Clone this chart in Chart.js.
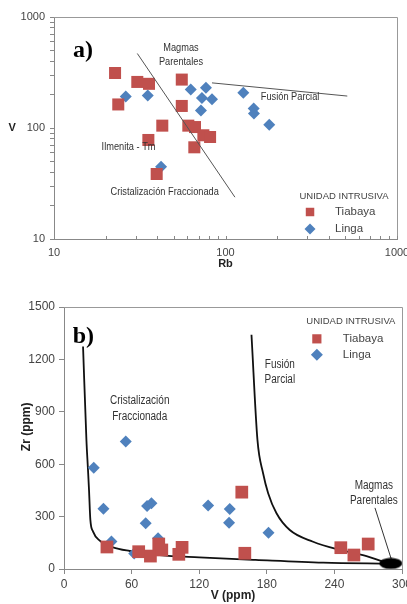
<!DOCTYPE html>
<html>
<head>
<meta charset="utf-8">
<script src="https://cdn.jsdelivr.net/npm/chart.js@4.4.1/dist/chart.umd.min.js"></script>
<style>
  body { margin: 0; width: 407px; height: 604px; overflow: hidden; background: #fff; position: relative; }
  canvas { position: absolute; left: 0; }
  #chartA { top: 0; }
  #chartB { top: 285px; }
</style>
</head>
<body>
<canvas id="chartA" width="420" height="285"></canvas>
<canvas id="chartB" width="420" height="319"></canvas>
<script>
// a) Rb vs V, log-log
const tiabayaRb = [22.7, 23.7, 30.6, 35.8, 55.6, 55.6, 42.8, 60.7, 66.4, 74.3, 81.3, 35.5, 65.8, 39.7];
const tiabayaV = [313, 163, 260, 250, 273, 158, 105, 105, 102, 86, 83, 78, 67, 38.5];
const lingaRb = [26.2, 35.2, 62.7, 76.9, 72.9, 83.4, 71.9, 127, 146, 146.5, 180, 42.1];
const lingaV = [192, 196, 222, 230, 186, 182, 144, 208, 150, 135, 107, 44.8];
const cristalRb = [30.6, 113.5];
const cristalV = [469, 23.8];
const fusionRb = [83.4, 513];
const fusionV = [255, 194];
const logTicks = [10, 100, 1000];

// b) V vs Zr
const tiabayaVb = [38.1, 66.3, 76.7, 84.1, 86.8, 101.9, 104.8, 157.8, 160.5, 245.7, 257.3, 270];
const tiabayaZr = [126, 99, 74, 143, 109, 84, 124, 440, 90, 122, 80, 143];
const lingaVb = [54.8, 26.4, 35, 73.7, 77.6, 72.5, 42.1, 83.5, 62.3, 127.9, 147.1, 146.5, 181.5];
const lingaZr = [730, 580, 345, 361, 376, 262, 157, 176, 89, 363, 344, 265, 208];
const cristalCurveV = [16.9, 19.9, 21.3, 22.2, 23.4, 25.8, 31.7, 43.5, 58.3, 85, 120, 170, 230, 289];
const cristalCurveZr = [1274, 739, 567, 453, 281, 214, 162, 124, 103, 80, 67, 52, 36, 30];
const fusionCurveV = [166.4, 171.7, 176.7, 181.2, 188.6, 200.4, 221.1, 244.8, 268.5, 283.3, 290];
const fusionCurveZr = [1341, 739, 548, 434, 319, 223, 156, 109, 74, 42, 30];
const parentalV = [290];
const parentalZr = [32];
const pointerV = [276, 290.7];
const pointerZr = [350, 52];
const vTicks = [0, 60, 120, 180, 240, 300];
const zrTicks = [0, 300, 600, 900, 1200, 1500];

const RED = '#C0504D';
const BLUE = '#4F81BD';
const SANS = "'Liberation Sans', Arial, sans-serif";

Chart.defaults.font.family = SANS;
Chart.defaults.color = '#444';

const pairs = (xs, ys) => xs.map((v, i) => ({x: v, y: ys[i]}));

// 1,2,...,9 x 10^n marks for the log axes (labels only on decades)
const logMarks = [];
[10, 100].forEach(d => { for (let m = 1; m < 10; m++) logMarks.push(m * d); });
logMarks.push(1000);

// black ellipse used as the "Magmas Parentales" marker
const blob = document.createElement('canvas');
blob.width = 24; blob.height = 12;
const bctx = blob.getContext('2d');
bctx.fillStyle = '#000';
bctx.beginPath();
bctx.ellipse(12, 6, 11.5, 5.5, 0, 0, Math.PI * 2);
bctx.fill();

// frame, free text and the little legend box
function chartNotes(notes, legend, innerXTicks) {
  return {
    id: 'chartNotes',
    afterDraw(chart) {
      const {ctx, chartArea: area, scales} = chart;
      ctx.save();
      ctx.strokeStyle = '#999';
      ctx.lineWidth = 1;
      ctx.beginPath();
      ctx.moveTo(area.left, Math.round(area.top) + 0.5);
      ctx.lineTo(Math.round(area.right) + 0.5, Math.round(area.top) + 0.5);
      ctx.lineTo(Math.round(area.right) + 0.5, area.bottom);
      ctx.stroke();

      if (innerXTicks) {
        ctx.strokeStyle = '#888';
        ctx.beginPath();
        scales.x.ticks.forEach(t => {
          const px = Math.round(scales.x.getPixelForValue(t.value)) + 0.5;
          ctx.moveTo(px, area.bottom);
          ctx.lineTo(px, area.bottom - innerXTicks);
        });
        ctx.stroke();
      }

      ctx.textBaseline = 'middle';
      notes.forEach(n => {
        const px = scales.x.getPixelForValue(n.x);
        const py = scales.y.getPixelForValue(n.y);
        const sx = n.squeeze || 1;
        ctx.font = n.font;
        ctx.fillStyle = n.color || '#333';
        ctx.textAlign = n.align || 'center';
        [].concat(n.text).forEach((line, i) => {
          ctx.save();
          ctx.translate(px, py + i * (n.lineHeight || 0));
          ctx.rotate(n.rotate || 0);
          ctx.scale(sx, 1);
          ctx.fillText(line, 0, 0);
          ctx.restore();
        });
      });

      const lx = scales.x.getPixelForValue(legend.x);
      const ly = scales.y.getPixelForValue(legend.y);
      ctx.font = legend.titleFont;
      ctx.fillStyle = '#444';
      ctx.textAlign = 'center';
      ctx.fillText(legend.title, lx, ly);
      legend.items.forEach(item => {
        const ds = chart.data.datasets[item.dataset];
        const my = ly + item.dy;
        ctx.fillStyle = ds.backgroundColor;
        Chart.helpers.drawPoint(ctx, {pointStyle: ds.pointStyle, radius: item.radius, rotation: 0, borderWidth: 0}, lx + legend.markerDx, my);
        ctx.font = legend.itemFont;
        ctx.fillStyle = '#444';
        ctx.textAlign = 'left';
        ctx.fillText(ds.label, lx + legend.labelDx, my);
      });
      ctx.restore();
    }
  };
}

const axisLine = {color: '#888'};
const tickMarks = {drawOnChartArea: false, tickLength: 5, color: '#888'};

new Chart(document.getElementById('chartA'), {
  type: 'scatter',
  data: {
    datasets: [
      {label: 'Cristalización Fraccionada', data: pairs(cristalRb, cristalV), showLine: true,
        borderColor: '#555', borderWidth: 1, pointRadius: 0},
      {label: 'Fusión Parcial', data: pairs(fusionRb, fusionV), showLine: true,
        borderColor: '#555', borderWidth: 1, pointRadius: 0},
      {label: 'Tiabaya', data: pairs(tiabayaRb, tiabayaV), pointStyle: 'rect', pointRadius: 8.5,
        backgroundColor: RED, borderWidth: 0},
      {label: 'Linga', data: pairs(lingaRb, lingaV), pointStyle: 'rectRot', pointRadius: 6,
        backgroundColor: BLUE, borderWidth: 0}
    ]
  },
  options: {
    responsive: false,
    animation: false,
    events: [],
    layout: {padding: {top: 17, right: 23, bottom: 0, left: 0}},
    plugins: {legend: {display: false}, tooltip: {enabled: false}},
    scales: {
      x: {
        type: 'logarithmic', min: 10, max: 1000,
        afterFit: s => { s.height = 46; },
        afterBuildTicks: s => { s.ticks = logMarks.map(v => ({value: v})); },
        border: axisLine, grid: {drawOnChartArea: false, drawTicks: false},
        ticks: {autoSkip: false, maxRotation: 0, padding: 7, font: {size: 11},
          callback: v => logTicks.includes(v) ? String(v) : ''},
        title: {display: true, text: 'Rb', color: '#222', font: {size: 11, weight: 'bold'}, padding: {top: 0, bottom: 14}}
      },
      y: {
        type: 'logarithmic', min: 10, max: 1000,
        afterFit: s => { s.width = 54; },
        afterBuildTicks: s => { s.ticks = logMarks.map(v => ({value: v})); },
        border: axisLine, grid: {drawOnChartArea: false, tickLength: 4, color: '#888'},
        ticks: {autoSkip: false, padding: 5, font: {size: 11},
          callback: v => logTicks.includes(v) ? String(v) : ''}
      }
    }
  },
  plugins: [chartNotes([
    {text: 'a)', x: 12.9, y: 492, align: 'left', font: "bold 24px 'Liberation Serif', serif", color: '#000'},
    {text: 'V', x: 5.7, y: 100, font: 'bold 11px ' + SANS, color: '#222'},
    {text: ['Magmas', 'Parentales'], x: 55, y: 522, lineHeight: 14, font: '11px ' + SANS, squeeze: 0.84},
    {text: 'Fusión Parcial', x: 238, y: 190, font: '11px ' + SANS, squeeze: 0.84},
    {text: 'Ilmenita - Tm', x: 27.2, y: 67, font: '11px ' + SANS, squeeze: 0.84},
    {text: 'Cristalización Fraccionada', x: 44.2, y: 26.5, font: '11px ' + SANS, squeeze: 0.84}
  ], {
    x: 491, y: 24.4, title: 'UNIDAD INTRUSIVA', titleFont: '9.5px ' + SANS,
    itemFont: '11.5px ' + SANS, markerDx: -34, labelDx: -9,
    items: [{dataset: 2, dy: 16, radius: 6}, {dataset: 3, dy: 33, radius: 5.5}]
  }, 3)]
});

new Chart(document.getElementById('chartB'), {
  type: 'scatter',
  data: {
    datasets: [
      {label: 'Tiabaya', data: pairs(tiabayaVb, tiabayaZr), pointStyle: 'rect', pointRadius: 9,
        backgroundColor: RED, borderWidth: 0},
      {label: 'Linga', data: pairs(lingaVb, lingaZr), pointStyle: 'rectRot', pointRadius: 6,
        backgroundColor: BLUE, borderWidth: 0},
      {label: 'Magmas Parentales', data: pairs(parentalV, parentalZr), pointStyle: blob, pointRadius: 6},
      {label: 'pointer', data: pairs(pointerV, pointerZr), showLine: true,
        borderColor: '#333', borderWidth: 1, pointRadius: 0},
      {label: 'Cristalización Fraccionada', data: pairs(cristalCurveV, cristalCurveZr), showLine: true,
        borderColor: '#111', borderWidth: 1.8, pointRadius: 0, cubicInterpolationMode: 'monotone'},
      {label: 'Fusión Parcial', data: pairs(fusionCurveV, fusionCurveZr), showLine: true,
        borderColor: '#111', borderWidth: 1.8, pointRadius: 0, cubicInterpolationMode: 'monotone'}
    ]
  },
  options: {
    responsive: false,
    animation: false,
    events: [],
    layout: {padding: {top: 22, right: 18, bottom: 0, left: 0}},
    plugins: {legend: {display: false}, tooltip: {enabled: false}},
    scales: {
      x: {
        type: 'linear', min: 0, max: 300,
        afterFit: s => { s.height = 35; },
        border: axisLine, grid: tickMarks,
        afterBuildTicks: s => { s.ticks = vTicks.map(v => ({value: v})); },
        ticks: {autoSkip: false, maxRotation: 0, padding: 3, font: {size: 12}, callback: v => String(v)},
        title: {display: true, text: 'V (ppm)', color: '#222', font: {size: 12, weight: 'bold'}, padding: {top: 0, bottom: 1}}
      },
      y: {
        type: 'linear', min: 0, max: 1500,
        afterFit: s => { s.width = 64; },
        border: axisLine, grid: tickMarks,
        afterBuildTicks: s => { s.ticks = zrTicks.map(v => ({value: v})); },
        ticks: {autoSkip: false, padding: 4, font: {size: 12}, callback: v => String(v)}
      }
    }
  },
  plugins: [chartNotes([
    {text: 'b)', x: 7.7, y: 1331, align: 'left', font: "bold 24px 'Liberation Serif', serif", color: '#000'},
    {text: 'Zr (ppm)', x: -33, y: 814, rotate: -Math.PI / 2, font: 'bold 12px ' + SANS, color: '#222'},
    {text: ['Cristalización', 'Fraccionada'], x: 67.2, y: 963, lineHeight: 16, font: '12.5px ' + SANS, squeeze: 0.8},
    {text: ['Fusión', 'Parcial'], x: 191.6, y: 1169, lineHeight: 15, font: '12.5px ' + SANS, squeeze: 0.8},
    {text: ['Magmas', 'Parentales'], x: 275, y: 477, lineHeight: 15, font: '12.5px ' + SANS, squeeze: 0.8}
  ], {
    x: 254.6, y: 1415, title: 'UNIDAD INTRUSIVA', titleFont: '9.5px ' + SANS,
    itemFont: '11.5px ' + SANS, markerDx: -34, labelDx: -8,
    items: [{dataset: 0, dy: 17, radius: 6.5}, {dataset: 1, dy: 33, radius: 6}]
  }, 0)]
});
</script>
</body>
</html>
